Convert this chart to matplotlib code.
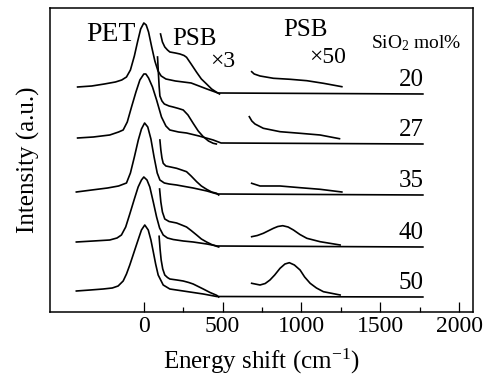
# PET / PSB spectra vs SiO2 content
import matplotlib
matplotlib.use('Agg')
import matplotlib.pyplot as plt
import numpy as np
from matplotlib.ticker import FixedLocator

plt.rcParams['font.family'] = ['Liberation Serif', 'DejaVu Serif']
plt.rcParams['mathtext.fontset'] = 'custom'
plt.rcParams['mathtext.rm'] = 'Liberation Serif'
plt.rcParams['mathtext.it'] = 'Liberation Serif:italic'

sio2 = ['20', '27', '35', '40', '50']
offsets = [218, 168, 117, 65, 15]

# PET band (x1), energy shift in cm-1 and intensity
pet_x = [
    [-420, -330, -250, -180, -140, -110, -85, -60, -40, -20, 0, 15, 30, 50, 70, 90, 110, 140, 200, 300, 400, 470, 1770],
    [-420, -320, -216, -160, -131, -105, -78, -50, -25, 0, 13, 30, 55, 81, 112, 140, 165, 220, 271, 350, 440, 490, 1770],
    [-428, -330, -230, -160, -110, -85, -60, -35, -15, 5, 25, 45, 65, 85, 102, 130, 160, 208, 260, 313, 400, 465, 1770],
    [-428, -320, -216, -170, -142, -115, -89, -60, -36, -15, 0, 20, 38, 60, 81, 100, 123, 150, 186, 250, 313, 400, 465, 1770],
    [-428, -340, -258, -200, -163, -131, -110, -89, -68, -47, -30, -15, 6, 28, 45, 59, 75, 91, 123, 165, 250, 377, 462, 1770],
]
pet_y = [
    [7, 8, 10, 12, 14, 17, 24, 38, 52, 65, 71, 69, 62, 47, 33, 23, 18, 15, 13, 11, 5, 1, 0],
    [6, 7, 9, 12, 14, 22, 37, 52, 64, 70, 70, 66, 57, 44, 27, 18, 14, 12, 11, 8, 4, 1, 0],
    [3, 5, 7, 9, 12, 22, 38, 55, 66, 72, 68, 56, 38, 22, 15, 12, 11, 10, 8.5, 7, 4, 1, 0],
    [5, 6, 7, 9, 12, 20, 33, 48, 60, 67, 70, 67, 60, 45, 30, 19, 12, 9, 7.5, 6, 5, 3, 1, 0],
    [6, 7, 8, 9, 11, 16, 23, 32, 42, 52, 60, 67, 72, 67, 57, 46, 33, 22, 12, 8, 6, 3, 0.5, 0],
]

# PSB x3
x3_x = [
    [106, 118, 133, 150, 165, 200, 229, 255, 271, 300, 335, 365, 398, 430, 462, 480],
    [87, 92, 97, 102, 115, 130, 160, 186, 220, 250, 280, 313, 345, 377, 410, 440, 460],
    [102, 108, 115, 123, 140, 170, 208, 240, 271, 300, 335, 365, 398, 430, 462, 475],
    [100, 108, 118, 133, 160, 208, 240, 271, 300, 335, 365, 398, 430, 462, 475],
    [97, 103, 110, 120, 133, 150, 165, 210, 250, 285, 313, 345, 377, 420, 462, 475],
]
x3_y = [
    [60, 52, 47, 44, 42, 41, 40, 38.5, 36.7, 30, 21.7, 15, 10, 5, 1.7, 0],
    [87, 72, 58, 48, 43, 40, 38, 37, 35.5, 34, 29, 20.7, 13, 7.3, 3, 0.7, 0],
    [55, 45, 37, 31.7, 29, 28, 26.7, 25, 23.3, 19, 13.3, 9, 5.7, 3, 1.7, 0],
    [58, 45, 35, 28, 25.5, 24, 22, 20, 16.5, 12, 8, 5, 2.5, 0.7, 0],
    [60.7, 48, 37, 28, 22, 19.5, 18, 17, 16, 14.5, 13, 10.5, 8, 4.5, 1.7, 0],
]

# PSB x50
x50_x = [
    [684, 700, 737, 822, 928, 1034, 1139, 1256],
    [669, 685, 705, 758, 864, 991, 1118, 1241],
    [684, 737, 864, 991, 1118, 1256],
    [684, 720, 758, 822, 850, 881, 915, 949, 990, 1034, 1118, 1245],
    [684, 737, 770, 800, 830, 864, 895, 923, 955, 991, 1020, 1055, 1095, 1139, 1245],
]
x50_y = [
    [22.3, 20, 18, 15.7, 14.7, 13.3, 10.7, 7.3],
    [27.3, 23, 20, 15.7, 12.3, 10.7, 9, 5.3],
    [11.7, 9, 9, 7.3, 5.7, 3],
    [10.3, 11.5, 13.7, 18.7, 20.5, 21.3, 20, 17, 12.5, 8.7, 5.3, 2],
    [13.7, 12, 13.5, 17, 22, 28.7, 33, 34.3, 32, 27, 20, 13.7, 9, 5.3, 2],
]

fig = plt.figure(figsize=(4.84, 3.84), dpi=100)
ax = fig.add_axes([0.103, 0.1875, 0.874, 0.7917])

for i in range(len(sio2)):
    off = offsets[i]
    ax.plot(pet_x[i], np.array(pet_y[i]) + off, color='k', lw=1.2)
    ax.plot(x3_x[i], np.array(x3_y[i]) + off, color='k', lw=1.2)
    ax.plot(x50_x[i], np.array(x50_y[i]) + off, color='k', lw=1.2)
    ax.text(1775, off + 3, sio2[i], fontsize=18, ha='right', va='bottom')

ax.text(-209, 277, 'PET', fontsize=20, ha='center', va='center')
ax.text(323, 273, 'PSB', fontsize=18, ha='center', va='center')
ax.text(503, 250, '\u00d73', fontsize=17, ha='center', va='center')
ax.text(1027, 282, 'PSB', fontsize=18, ha='center', va='center')
ax.text(1167, 254, '\u00d750', fontsize=17, ha='center', va='center')
ax.text(1731, 269, 'SiO$_2$ mol%', fontsize=14, ha='center', va='center')

ax.set_xlim(-596, 2087)
ax.set_ylim(0, 304)
ax.set_xticks([0, 500, 1000, 1500, 2000])
ax.xaxis.set_minor_locator(FixedLocator([250, 750, 1250, 1750]))
ax.set_yticks([])
ax.tick_params(axis='x', which='major', direction='in', length=7, width=0.9, labelsize=17, pad=3)
ax.tick_params(axis='x', which='minor', direction='in', length=3.5, width=0.9)
for s in ax.spines.values():
    s.set_linewidth(1.1)

ax.set_xlabel('Energy shift (cm$^{-1}$)', fontsize=18, labelpad=7)
ax.set_ylabel('Intensity (a.u.)', fontsize=18, labelpad=7)

fig.savefig('out.png', dpi=100)
